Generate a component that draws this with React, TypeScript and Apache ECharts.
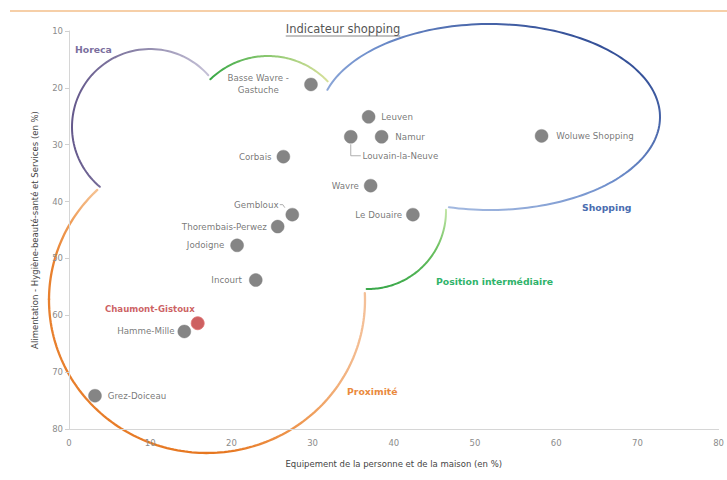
import React, { useEffect, useRef } from "react";
import * as echarts from "echarts";

// ---- data ----
const cities = [
  "Basse Wavre -\nGastuche",
  "Leuven",
  "Namur",
  "Louvain-la-Neuve",
  "Corbais",
  "Wavre",
  "Woluwe Shopping",
  "Gembloux",
  "Thorembais-Perwez",
  "Le Douaire",
  "Jodoigne",
  "Incourt",
  "Hamme-Mille",
  "Grez-Doiceau",
  "Chaumont-Gistoux",
];
// Equipement de la personne et de la maison (en %)
const equipement = [29.8, 36.9, 38.5, 34.7, 26.4, 37.15, 58.2, 27.5, 25.7, 42.35, 20.7, 23.0, 14.2, 3.2, 15.85];
// Alimentation - Hygiène-beauté-santé et Services (en %)
const alimentation = [19.4, 25.1, 28.6, 28.6, 32.1, 37.2, 28.45, 42.3, 44.4, 42.3, 47.7, 53.8, 62.85, 74.15, 61.4];
const highlightedCity = "Chaumont-Gistoux";

const xMin = 0, xMax = 80, yMin = 10, yMax = 80, tickStep = 10;

const titleText = "Indicateur shopping";
const xTitle = "Equipement de la personne et de la maison (en %)";
const yTitle = "Alimentation - Hygiène-beauté-santé et Services (en %)";
const zoneNames = ["Horeca", "Shopping", "Position intermédiaire", "Proximité"];

// ---- label placement per city (style, not data) ----
type LabelCfg = { position: string; distance: number; offset?: number[]; align?: string };
const labelCfg: Record<string, LabelCfg> = {
  "Basse Wavre -\nGastuche": { position: "left", distance: 46, align: "center" },
  Leuven: { position: "right", distance: 6 },
  Namur: { position: "right", distance: 7 },
  "Louvain-la-Neuve": { position: "right", distance: 5, offset: [0, 19] },
  Corbais: { position: "left", distance: 5 },
  Wavre: { position: "left", distance: 5 },
  "Woluwe Shopping": { position: "right", distance: 8 },
  Gembloux: { position: "left", distance: 7, offset: [0, -10] },
  "Thorembais-Perwez": { position: "left", distance: 4 },
  "Le Douaire": { position: "left", distance: 4 },
  Jodoigne: { position: "left", distance: 6 },
  Incourt: { position: "left", distance: 7 },
  "Hamme-Mille": { position: "left", distance: 3 },
  "Grez-Doiceau": { position: "right", distance: 6 },
  "Chaumont-Gistoux": { position: "left", distance: -4, offset: [0, -14] },
};

const FONT = "DejaVu Sans";
const SYMBOL = 13;

function arcPoints(cx: number, cy: number, rx: number, ry: number, t0: number, t1: number, n = 80) {
  const pts: number[][] = [];
  for (let i = 0; i <= n; i++) {
    const t = ((t0 + ((t1 - t0) * i) / n) * Math.PI) / 180;
    pts.push([cx + rx * Math.cos(t), cy + ry * Math.sin(t)]);
  }
  return pts;
}

function lg(x: number, y: number, x2: number, y2: number, stops: [number, string][]) {
  return new echarts.graphic.LinearGradient(
    x, y, x2, y2,
    stops.map(([offset, color]) => ({ offset, color }))
  );
}

function measure(text: string, font: string) {
  const ctx = document.createElement("canvas").getContext("2d");
  if (!ctx) return text.length * 6;
  ctx.font = font;
  return ctx.measureText(text).width;
}

export default function App() {
  const ref = useRef<HTMLDivElement>(null);

  useEffect(() => {
    if (!ref.current) return;
    const chart = echarts.init(ref.current, null, { renderer: "svg" });

    const data = cities.map((c, i) => {
      const cfg = labelCfg[c];
      const isHi = c === highlightedCity;
      return {
        name: c,
        value: [equipement[i], alimentation[i]],
        itemStyle: isHi
          ? { color: "#c0383a", borderColor: "#e07272", borderWidth: 1 }
          : { color: "#666666", borderColor: "#7c7c7c", borderWidth: 0.5 },
        label: {
          show: true,
          formatter: "{b}",
          position: cfg.position,
          distance: cfg.distance,
          offset: cfg.offset || [0, 0],
          align: cfg.align,
          lineHeight: 12,
          fontFamily: FONT,
          fontSize: isHi ? 8.6 : 8.7,
          fontWeight: isHi ? "bold" : "normal",
          color: isHi ? "#c0383a" : "#555555",
        },
      };
    });

    const titleFont = `11.5px "${FONT}"`;
    const titleW = measure(titleText, titleFont);
    const titleCx = 343;
    const titleCy = 29;

    const zoneLabel = (text: string, x: number, y: number, color: string) => ({
      type: "text",
      x,
      y,
      silent: true,
      style: {
        text,
        fill: color,
        font: `bold 9.3px "${FONT}"`,
        textVerticalAlign: "middle",
      },
    });

    const arc = (pts: number[][], stroke: any, w: number) => ({
      type: "polyline",
      silent: true,
      z: 0,
      shape: { points: pts },
      style: { stroke, lineWidth: w, fill: null, lineCap: "round" },
    });

    const baseGraphic: any[] = [
      { type: "line", silent: true, shape: { x1: 10, y1: 11, x2: 727, y2: 11 }, style: { stroke: "#f6cfa8", lineWidth: 2 } },
      {
        type: "text",
        x: titleCx,
        y: titleCy,
        silent: true,
        style: { text: titleText, font: titleFont, fill: "#555555", textAlign: "center", textVerticalAlign: "middle" },
      },
      {
        type: "line",
        silent: true,
        shape: { x1: titleCx - titleW / 2, y1: titleCy + 7, x2: titleCx + titleW / 2, y2: titleCy + 7 },
        style: { stroke: "#666666", lineWidth: 0.8 },
      },
      // Horeca arc
      arc(arcPoints(150, 127, 78, 78, 130, 318.4), lg(0, 0, 1, 0, [[0, "#65598c"], [0.5, "#8d86aa"], [1, "#c4c0d6"]]), 2),
      // green top arc
      arc(arcPoints(268, 139, 83, 83, 226, 316), lg(0, 0, 1, 0, [[0, "#38a846"], [0.5, "#8cc870"], [1, "#d6e09a"]]), 2),
      // Shopping ellipse
      arc(arcPoints(490, 117, 170, 93, 197, 464, 160), lg(0, 1, 1, 0, [[0, "#c2d2ec"], [0.5, "#6f8fcc"], [1, "#1c3682"]]), 2),
      // Position intermédiaire arc
      arc(arcPoints(368, 211, 78, 78, -1, 91), lg(0, 0, 0, 1, [[0, "#c4e6a8"], [0.5, "#6cc060"], [1, "#3aa84a"]]), 2),
      // Proximité arc: upper-left part (light at its tip), then the rest (dark left/bottom, light right end)
      arc(
        arcPoints(207, 300, 158, 153, 180, 226, 40),
        lg(0, 0, 0, 1, [[0, "#f5c293"], [0.3, "#ef9c56"], [0.65, "#e8802e"], [1, "#e8802e"]]),
        2.3
      ),
      arc(
        arcPoints(207, 300, 158, 153, -2.6, 180.5, 140),
        lg(0, 0, 1, 0, [[0, "#e8802e"], [0.55, "#e6761f"], [0.82, "#ef9c58"], [1, "#f4c098"]]),
        2.3
      ),
      zoneLabel(zoneNames[0], 75, 49, "#7b6f9e"),
      zoneLabel(zoneNames[1], 582, 207, "#4a6db0"),
      zoneLabel(zoneNames[2], 436, 281, "#2fb36a"),
      zoneLabel(zoneNames[3], 347, 391, "#ea8a3e"),
    ];

    chart.setOption({
      animation: false,
      backgroundColor: "#ffffff",
      grid: { left: 69, right: 7, top: 31, bottom: 51, containLabel: false },
      xAxis: {
        type: "value",
        min: xMin,
        max: xMax,
        interval: tickStep,
        name: xTitle,
        nameLocation: "middle",
        nameGap: 30,
        nameTextStyle: { fontFamily: FONT, fontSize: 8.5, color: "#454545" },
        axisLine: { show: true, lineStyle: { color: "#d6d6d6", width: 1 } },
        axisTick: { show: false },
        axisLabel: { fontFamily: FONT, fontSize: 8.5, color: "#8c8c8c", margin: 9 },
        splitLine: { show: false },
      },
      yAxis: {
        type: "value",
        inverse: true,
        min: yMin,
        max: yMax,
        interval: tickStep,
        name: yTitle,
        nameLocation: "middle",
        nameGap: 30,
        nameTextStyle: { fontFamily: FONT, fontSize: 8.5, color: "#454545" },
        axisLine: { show: true, lineStyle: { color: "#d6d6d6", width: 1 } },
        axisTick: { show: true, length: 4, lineStyle: { color: "#d0d0d0" } },
        axisLabel: { fontFamily: FONT, fontSize: 8.5, color: "#8c8c8c", margin: 6 },
        splitLine: { show: false },
      },
      graphic: baseGraphic,
      series: [
        {
          type: "scatter",
          symbol: "circle",
          symbolSize: SYMBOL,
          z: 5,
          data,
          emphasis: { disabled: true },
        },
      ],
    });

    // leader lines for two labels, from the points' pixel positions
    const lln = cities.indexOf("Louvain-la-Neuve");
    const gem = cities.indexOf("Gembloux");
    const pL = chart.convertToPixel({ seriesIndex: 0 }, [equipement[lln], alimentation[lln]]) as number[];
    const pG = chart.convertToPixel({ seriesIndex: 0 }, [equipement[gem], alimentation[gem]]) as number[];
    const leaderStyle = { stroke: "#9a9a9a", lineWidth: 0.8, fill: null };
    const leaders = [
      {
        type: "polyline",
        silent: true,
        shape: { points: [[pL[0], pL[1] + SYMBOL / 2 + 1], [pL[0], pL[1] + 19], [pL[0] + 10, pL[1] + 19]] },
        style: leaderStyle,
      },
      {
        type: "polyline",
        silent: true,
        shape: { points: [[pG[0] - SYMBOL / 2 - 6, pG[1] - 10], [pG[0] - SYMBOL / 2 - 3, pG[1] - 10], [pG[0] - SYMBOL / 2 - 1, pG[1] - 7]] },
        style: leaderStyle,
      },
    ];
    chart.setOption({ graphic: [...baseGraphic, ...leaders] });

    return () => chart.dispose();
  }, []);

  return (
    <div
      ref={ref}
      style={{ position: "fixed", left: 0, top: 0, width: 727, height: 480, background: "#fff" }}
    />
  );
}
